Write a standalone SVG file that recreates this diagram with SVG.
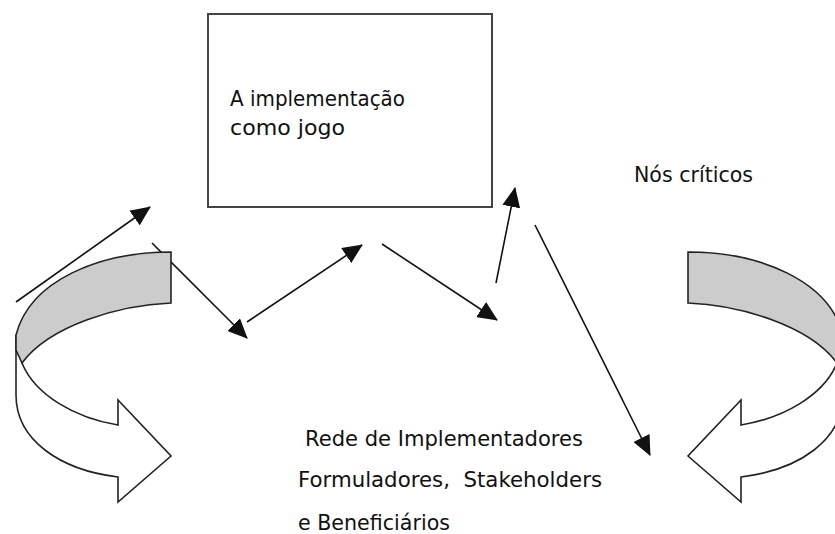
<svg xmlns="http://www.w3.org/2000/svg" width="835" height="534" viewBox="0 0 835 534">
<style>
.t{font-family:"DejaVu Sans","Liberation Sans",sans-serif;fill:#111}
.ln{stroke:#111;stroke-width:1.6;fill:none;marker-end:url(#ah)}
.rib{stroke:#222;stroke-width:1.6;stroke-linejoin:miter}
</style>
<defs>
<marker id="ah" viewBox="0 0 20 18" refX="19" refY="9" markerWidth="20" markerHeight="18" markerUnits="userSpaceOnUse" orient="auto">
<path d="M0,0 L20,9 L0,18 Z" fill="#111"/>
</marker>
<g id="curl">
<path class="rib" fill="#fff" d="M22,363 C35,395 75,418 118,425 L118,400 L171,456 L118,502 L118,477 C60,470 16,440 16,395 L16,335 Z"/>
<path class="rib" fill="#cccccc" d="M171,252 C100,252 30,280 16,335 L16,350 L22,363 C50,325 120,305 171,303 Z"/>
</g>
</defs>
<g id="connectors">
<line class="ln" x1="16" y1="302" x2="150" y2="207"/>
<line class="ln" x1="152" y1="243" x2="247" y2="338"/>
<line class="ln" x1="247" y1="322" x2="362" y2="245"/>
<line class="ln" x1="382" y1="244" x2="497" y2="320"/>
<line class="ln" x1="496" y1="283" x2="515" y2="188"/>
<line class="ln" x1="535" y1="225" x2="650" y2="455"/>
</g>
<g id="curl-left"><use href="#curl"/></g>
<g id="curl-right"><use href="#curl" transform="translate(859,0) scale(-1,1)"/></g>
<g id="box">
<rect x="208" y="14" width="284" height="193" fill="#fff" stroke="#444" stroke-width="2"/>
<text class="t" x="230" y="106" font-size="20.5" textLength="175" lengthAdjust="spacingAndGlyphs">A implementação</text>
<text class="t" x="230" y="135" font-size="20.5" textLength="115" lengthAdjust="spacingAndGlyphs">como jogo</text>
</g>
<g id="nos-criticos">
<text class="t" x="634" y="182" font-size="20.5" textLength="119" lengthAdjust="spacingAndGlyphs">Nós críticos</text>
</g>
<g id="rede">
<text class="t" x="305" y="446" font-size="20.5" textLength="278" lengthAdjust="spacingAndGlyphs">Rede de Implementadores</text>
<text class="t" x="298" y="487" font-size="20.5" textLength="304" lengthAdjust="spacingAndGlyphs" xml:space="preserve">Formuladores,  Stakeholders</text>
<text class="t" x="298" y="530" font-size="20.5" textLength="152" lengthAdjust="spacingAndGlyphs">e Beneficiários</text>
</g>
</svg>
